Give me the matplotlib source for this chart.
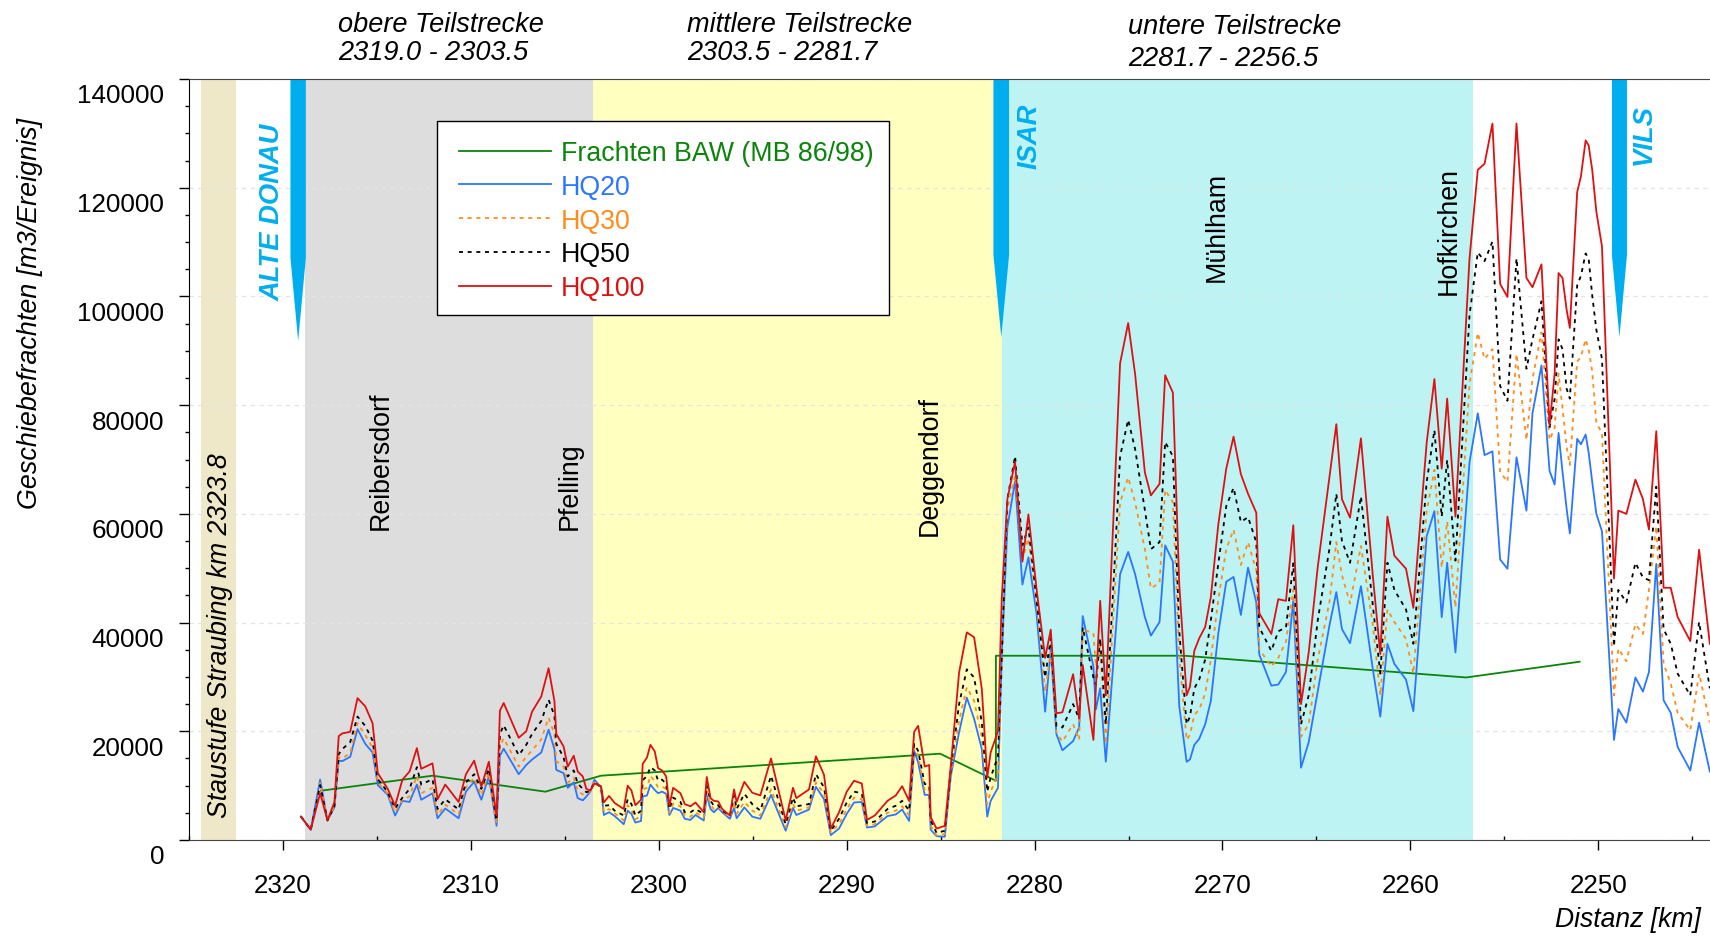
import matplotlib
matplotlib.use("Agg")
import matplotlib.pyplot as plt
import numpy as np
from matplotlib.patches import Rectangle
from matplotlib.transforms import ScaledTranslation
from matplotlib.ticker import MultipleLocator

plt.rcParams['font.family'] = ['Liberation Sans', 'DejaVu Sans']

# river km of the vertices
km = [2319.05,2318.53,2318.03,2317.64,2317.27,2317.04,2316.86,2316.43,2316.04,2315.63,
      2315.24,2314.96,2314.43,2314.04,2313.65,2313.27,2312.88,2312.65,2312.05,2311.78,
      2311.37,2310.66,2310.27,2309.83,2309.45,2309.05,2308.64,2308.46,2308.26,2307.46,
      2307.06,2306.75,2306.26,2305.87,2305.56,2305.46,2305.07,2304.85,2304.53,2304.32,
      2304.05,2303.86,2303.65,2303.43,2303.08,2302.93,2302.65,2302.35,2301.87,2301.66,
      2301.46,2301.25,2300.95,2300.86,2300.63,2300.45,2300.22,2300.04,2299.83,2299.61,
      2299.44,2299.24,2298.85,2298.62,2298.32,2298.05,2297.61,2297.45,
      2297.25,2297.07,2296.84,2296.63,2296.22,2296.00,2295.86,2295.45,2295.03,2294.60,
      2294.03,2293.25,2292.86,2292.68,2292.01,2291.64,2291.21,2290.85,2290.41,2290.00,
      2289.61,2289.20,2288.92,2288.51,2287.83,2287.39,2287.05,2286.68,2286.41,2286.20,
      2285.85,2285.61,2285.53,2285.22,2284.78,2284.46,2284.02,2283.61,2283.22,2282.81,
      2282.52,2282.34,2281.95,2281.75,2281.45,2281.04,2280.65,2280.33,2279.90,2279.44,
      2279.14,2278.84,2278.52,2277.95,2277.63,2277.44,2276.87,2276.74,2276.51,2276.21,
      2275.71,2275.45,2275.02,2274.65,2274.13,2273.81,2273.35,2273.05,2272.64,2272.30,
      2271.91,2271.73,2271.50,2271.24,2270.92,2270.62,2270.22,2269.80,2269.41,2269.02,
      2268.64,2268.20,2268.04,2267.40,2267.03,2266.62,2266.23,2265.82,2265.41,2264.93,
      2264.31,2263.94,
      2263.64,2263.21,2262.63,2262.00,2261.60,2261.22,2260.85,2260.23,2259.84,2259.13,
      2258.72,2258.33,2258.04,2257.60,2256.85,2256.41,2256.05,2255.63,2255.22,2254.83,
      2254.35,2253.82,2253.50,2253.02,2252.59,2252.32,2252.11,2251.90,2251.68,2251.51,
      2251.12,2250.92,2250.67,2250.51,2250.32,2250.10,2249.80,2249.16,2248.93,2248.50,
      2248.02,2247.62,2247.30,2246.91,2246.52,2246.14,2245.77,2245.10,2244.63,2244.06]

# all in 1000 m3/Ereignis
hq100 = [4.3,1.9,8.6,3.6,7.0,19.1,19.6,19.9,26.1,24.6,21.5,12.3,9.4,6.3,11.1,12.6,16.9,13.1,14.1,7.5,
         10.2,7.0,12.1,14.6,9.8,14.4,4.5,23.8,25.2,18.8,20.0,23.6,26.4,31.6,25.6,19.5,17.2,13.5,15.5,12.6,
         11.7,9.4,9.1,10.4,9.9,6.9,8.1,6.8,5.7,10.0,9.1,6.4,7.4,14.0,15.2,17.5,16.3,13.2,12.8,11.7,
         6.3,9.6,8.6,6.6,6.2,6.9,5.1,11.6,
         7.7,7.2,7.1,5.7,4.5,9.3,7.0,10.7,8.7,8.2,15.0,3.6,9.6,7.7,9.3,15.4,12.0,2.1,5.1,8.9,
         10.9,10.4,3.7,4.5,7.2,8.2,9.9,7.2,19.9,21.0,13.5,13.8,4.2,2.1,2.6,13.7,30.8,38.2,37.3,27.8,
         11.5,16.1,20.0,44.3,62.7,69.6,51.2,59.9,46.3,33.5,38.7,23.3,23.5,30.5,22.3,32.2,18.4,27.9,44.0,26.6,
         66.6,87.7,95.1,85.7,67.6,63.4,65.5,85.5,82.3,47.0,26.6,28.2,34.8,37.1,39.2,44.7,58.1,68.3,74.2,67.3,
         63.7,60.2,41.7,37.9,44.3,44.0,57.9,25.0,34.5,50.2,66.7,76.5,
         62.7,59.3,73.9,48.7,34.2,59.5,52.3,49.9,42.7,73.1,84.8,68.3,81.2,59.5,107.0,123.3,124.4,131.8,102.3,99.9,
         131.8,103.4,101.7,105.9,76.3,85.8,104.3,103.4,97.5,94.2,119.2,122.1,128.7,127.8,123.3,115.6,109.2,48.1,60.6,60.0,
         66.3,62.7,57.1,75.2,46.4,46.4,41.0,36.6,53.4,36.1]

hq50 = [4.3,1.9,10.1,3.6,6.3,15.8,16.7,18.0,22.7,21.0,18.3,11.2,8.8,5.8,7.8,9.4,13.4,10.2,11.2,5.7,
        7.5,5.6,10.6,12.1,9.4,13.1,3.6,19.5,21.1,15.6,17.5,19.5,21.9,25.8,22.9,17.7,15.2,11.7,12.8,10.4,
        9.4,8.8,9.0,10.6,9.7,6.3,6.4,5.4,4.5,7.5,6.6,4.5,5.4,11.0,11.8,13.4,12.8,10.9,11.1,10.3,
        5.7,7.8,7.0,5.1,5.1,5.7,4.8,10.0,
        7.2,6.3,6.4,5.4,4.5,8.2,5.7,8.5,6.6,5.4,11.8,2.9,7.8,6.2,6.6,12.1,9.7,1.7,3.9,6.9,
        8.9,8.6,3.1,3.4,5.7,6.3,7.2,5.4,17.7,16.4,10.3,10.1,3.6,1.3,1.7,13.1,25.0,31.4,29.9,21.6,
        8.9,11.5,15.4,33.8,62.7,70.6,54.2,57.5,44.3,29.9,37.1,21.0,20.7,25.0,22.3,39.1,29.9,28.6,37.1,21.3,
        52.9,70.6,77.3,71.9,60.7,53.5,54.8,73.2,70.6,38.4,21.3,22.7,27.9,29.5,33.2,40.4,50.9,61.4,64.8,58.5,
        59.4,54.8,39.1,34.8,38.4,39.1,50.9,21.3,26.6,40.4,53.5,63.7,
        55.0,51.0,63.2,43.3,30.6,51.0,46.0,42.4,36.1,65.9,75.4,59.5,69.9,51.4,96.6,108.1,106.5,110.1,83.5,80.8,
        107.0,86.7,92.1,99.1,75.8,81.2,92.1,90.3,83.0,81.2,102.0,103.8,107.9,107.0,100.2,93.9,88.5,35.6,46.0,43.7,
        51.0,48.3,47.8,65.0,38.8,36.1,30.6,26.6,40.1,27.9]

hq30 = [4.3,1.9,10.5,3.6,6.2,15.2,15.0,16.0,21.5,19.3,17.0,10.6,8.5,5.1,7.4,8.0,11.8,8.6,9.6,4.6,
        6.5,4.7,9.7,11.4,8.2,12.4,3.0,17.4,18.7,13.5,15.3,16.5,18.5,22.5,19.5,14.5,13.5,10.5,11.5,9.0,
        8.4,8.4,9.0,10.9,9.7,5.2,5.7,4.9,3.6,6.4,5.6,3.8,4.4,9.3,9.6,11.8,10.8,9.7,9.8,9.4,
        5.0,6.7,6.2,4.5,4.3,5.1,4.1,9.0,
        6.4,5.7,6.2,5.2,4.2,7.0,4.8,7.0,5.4,4.5,9.3,2.3,6.6,5.4,6.0,10.6,8.5,1.4,2.9,5.7,
        7.8,7.5,2.6,2.9,5.0,5.4,6.2,4.5,17.0,15.5,9.1,9.1,2.6,0.8,1.1,12.3,21.9,28.1,25.6,18.9,
        6.6,8.9,12.1,30.5,60.8,67.0,51.6,55.5,43.7,27.3,34.5,19.7,18.1,21.3,18.4,38.7,38.1,31.9,35.8,17.7,
        47.0,62.1,66.7,62.1,53.5,46.3,47.3,64.4,62.1,33.8,18.4,19.4,23.0,24.0,26.9,33.2,44.3,53.5,57.1,50.6,
        54.8,49.6,35.1,31.9,33.5,36.5,46.0,19.0,21.3,33.2,43.7,54.8,
        48.7,43.5,54.1,39.7,26.6,42.4,40.1,37.0,30.6,60.5,68.1,50.1,58.6,42.8,83.9,93.3,88.5,90.3,67.7,65.9,
        89.4,73.6,84.8,93.4,73.6,75.8,85.8,79.4,72.2,69.0,88.0,88.9,92.1,90.3,86.2,76.7,74.9,26.6,35.2,32.9,
        39.7,37.9,46.0,57.7,32.4,28.8,23.4,20.2,30.6,21.6]

hq20 = [4.3,1.9,11.1,3.6,6.0,14.6,14.5,15.3,20.4,17.7,16.1,10.1,8.3,4.5,7.2,7.0,10.2,7.4,8.6,4.0,
        5.8,4.0,8.9,10.7,7.4,11.7,2.6,15.5,16.8,12.1,13.8,14.8,16.1,20.3,16.7,12.9,12.3,9.6,10.6,7.7,
        7.3,8.0,8.9,11.1,9.7,4.6,5.1,4.4,2.9,5.4,4.8,3.2,3.5,8.0,8.2,10.2,9.2,8.6,8.9,8.5,
        4.6,5.9,5.4,3.9,3.7,4.6,3.6,8.2,
        5.7,5.1,5.9,5.1,3.9,5.9,4.0,6.0,4.3,3.9,8.3,1.7,5.9,4.6,5.6,9.8,7.5,0.9,2.1,4.8,
        6.9,7.0,2.3,2.5,4.4,4.7,5.6,3.5,16.4,14.3,8.3,8.3,1.9,0.7,0.6,11.8,19.8,26.2,22.3,16.7,
        4.3,7.2,9.6,33.8,57.5,66.0,47.0,52.0,41.7,23.6,35.1,19.5,16.5,18.2,20.7,41.2,31.9,24.0,27.9,14.4,
        37.1,48.9,53.0,48.9,41.0,37.6,40.1,54.2,51.2,24.6,14.4,14.8,17.5,18.6,21.3,25.6,38.1,47.5,48.4,41.4,
        50.1,43.7,34.1,28.4,28.6,30.9,44.0,13.3,18.0,27.3,39.4,45.6,
        38.8,36.2,46.7,31.5,22.7,36.1,32.4,29.5,23.7,55.9,60.5,41.0,51.0,34.5,69.5,78.5,70.8,71.5,51.6,49.9,
        70.4,60.6,78.5,87.3,67.9,65.4,74.9,67.7,60.9,56.4,73.8,72.8,74.6,71.3,65.9,60.0,56.8,18.4,24.1,21.6,
        29.9,27.3,30.9,50.8,25.7,23.4,17.1,12.8,21.6,12.6]

baw_km = [2317.98,2312.05,2306.04,2303.08,2285.03,2282.06,2282.06,2272.04,2257.03,2250.99]
baw = [9070,11830,8890,11830,15880,10910,33900,33900,29900,32800]

# km limits of the sections behind the curves
band_stau = (2324.35, 2322.5)
band_obere = (2318.84, 2303.53)
band_mittlere = (2303.53, 2281.74)
band_untere = (2281.74, 2256.67)

# tributary arrows: left km, right km, shoulder, tip
arrows = [(2319.61, 2318.79, 107100, 91800),
          (2282.19, 2281.36, 107600, 92500),
          (2249.27, 2248.47, 107600, 92500)]

fig = plt.figure(figsize=(17.10, 9.37), dpi=100)
ax = fig.add_axes([189/1710, 96/937, 1521/1710, 761/937])

ax.axvspan(*band_stau, color='#efe8c8', lw=0, zorder=0)
ax.axvspan(*band_obere, color='#dcdddc', lw=0, zorder=0)
ax.axvspan(*band_mittlere, color='#ffffc0', lw=0, zorder=0)
ax.axvspan(*band_untere, color='#bef3f3', lw=0, zorder=0)

km = np.array(km)
dash = (0, (2.2, 2.6))
ax.plot(baw_km, baw, color='#0a840a', lw=1.3, label='Frachten BAW (MB 86/98)', zorder=3)
ax.plot(km, np.array(hq20)*1000, color='#2a76ff', lw=1.3, label='HQ20', zorder=4)
ax.plot(km, np.array(hq30)*1000, color='#ff8c1a', lw=1.3, ls=dash, label='HQ30', zorder=4)
ax.plot(km, np.array(hq50)*1000, color='black', lw=1.3, ls=dash, label='HQ50', zorder=4)
ax.plot(km, np.array(hq100)*1000, color='#dd1111', lw=1.3, label='HQ100', zorder=5)

for left, right, shoulder, tip in arrows:
    ax.fill([left, right, right, (left+right)/2, left],
            [140000, 140000, shoulder, tip, shoulder], color='#00aeef', lw=0, zorder=6)

ax.set_xlim(2325.01, 2244.05)
ax.set_ylim(0, 140000)
ax.xaxis.set_major_locator(MultipleLocator(10))
ax.xaxis.set_minor_locator(MultipleLocator(5))
ax.yaxis.set_major_locator(MultipleLocator(20000))
ax.yaxis.set_minor_locator(MultipleLocator(5000))
ax.tick_params(axis='x', which='major', direction='out', length=7, width=1, pad=17, labelsize=18.7)
ax.tick_params(axis='x', which='minor', direction='in', length=3, width=1)
ax.tick_params(axis='y', which='major', direction='out', length=7, width=1, pad=11, labelsize=18.7)
ax.tick_params(axis='y', which='minor', direction='out', length=3, width=1)
for lab in ax.get_yticklabels():
    lab.set_transform(lab.get_transform() + ScaledTranslation(0, -0.14, fig.dpi_scale_trans))

ax.grid(axis='y', which='major', color='#e4e4e4', lw=0.9, ls=(0, (3.5, 3.5)), zorder=1)
ax.set_axisbelow(False)
for s in ['top', 'bottom']:
    ax.spines[s].set_color('#444444')
ax.spines['right'].set_visible(False)
for s in ax.spines.values():
    s.set_zorder(7)

# legend box drawn separately so its size can follow the original
ax.add_patch(Rectangle((248/1521, 525/761), 452/1521, 194/761, transform=ax.transAxes,
                       fc='white', ec='black', lw=1, zorder=7.5))
leg = ax.legend(loc='upper left', bbox_to_anchor=(270/1521, 0.9197), borderaxespad=0, borderpad=0,
                fontsize=19.3, labelcolor='linecolor', frameon=False, handlelength=3.42,
                handletextpad=0.37, labelspacing=0.29)
leg.set_zorder(8)

# town names
for x, y, name in [(2314.78, 57300, 'Reibersdorf'), (2304.72, 57300, 'Pfelling'),
                   (2285.56, 56200, 'Deggendorf'), (2270.3, 102900, 'Mühlham'),
                   (2257.94, 100500, 'Hofkirchen')]:
    ax.text(x, y, name, rotation=90, ha='center', va='bottom', fontsize=19.3, zorder=8)

for x, y, name in [(2320.57, 99300, 'ALTE DONAU'), (2280.25, 123600, 'ISAR'), (2247.6, 124400, 'VILS')]:
    ax.text(x, y, name, rotation=90, ha='center', va='bottom', fontsize=19.7,
            color='#00aeef', style='italic', weight='bold', zorder=8)

ax.text(2323.35, 4230, 'Staustufe Straubing km 2323.8', rotation=90, ha='center', va='bottom',
        fontsize=19.15, style='italic', zorder=8)

ax.set_ylabel('Geschiebefrachten [m3/Ereignis]', fontsize=19.4, style='italic')
ax.yaxis.set_label_coords(-0.096, 0.693)
fig.text(1701/1710, 1-920/937, 'Distanz [km]', ha='right', va='center', fontsize=19.1, style='italic')

fig.text(338/1710, 1-25/937, 'obere Teilstrecke', ha='left', va='center', fontsize=19.5, style='italic')
fig.text(338/1710, 1-53/937, '2319.0 - 2303.5', ha='left', va='center', fontsize=19.5, style='italic')
fig.text(687/1710, 1-25/937, 'mittlere Teilstrecke', ha='left', va='center', fontsize=19.5, style='italic')
fig.text(687/1710, 1-53/937, '2303.5 - 2281.7', ha='left', va='center', fontsize=19.5, style='italic')
fig.text(1128/1710, 1-27/937, 'untere Teilstrecke', ha='left', va='center', fontsize=19.5, style='italic')
fig.text(1128/1710, 1-59/937, '2281.7 - 2256.5', ha='left', va='center', fontsize=19.5, style='italic')

fig.savefig('out.png', dpi=100)
